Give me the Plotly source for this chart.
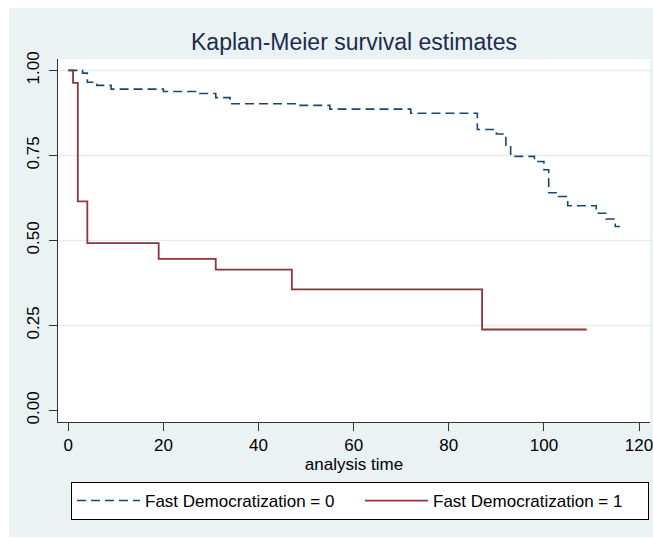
import plotly.graph_objects as go

# Kaplan-Meier step data
t_fast0 = [0, 3, 4, 6, 9, 20, 27, 31, 34, 48, 55, 72, 86, 90, 92, 93, 98, 100, 101, 103, 105, 111, 113, 115, 116]
s_fast0 = [1.0, 0.992, 0.965, 0.956, 0.945, 0.938, 0.932, 0.920, 0.902, 0.897, 0.886, 0.874, 0.826, 0.813,
           0.780, 0.747, 0.732, 0.708, 0.640, 0.629, 0.602, 0.580, 0.563, 0.541, 0.541]

t_fast1 = [0, 1, 2, 4, 19, 31, 47, 87, 109]
s_fast1 = [1.0, 0.963, 0.615, 0.492, 0.446, 0.414, 0.356, 0.238, 0.238]

x_ticks = [0, 20, 40, 60, 80, 100, 120]
y_ticks = [0.0, 0.25, 0.5, 0.75, 1.0]
y_tick_text = ["0.00", "0.25", "0.50", "0.75", "1.00"]

names = ["Fast Democratization = 0", "Fast Democratization = 1"]

FONT = "Liberation Sans, Arial, sans-serif"
BLUE = "#1A476F"
RED = "#90353B"
BG = "#EAF2F3"

fig = go.Figure()
fig.add_trace(go.Scatter(x=t_fast0, y=s_fast0, mode="lines", line_shape="hv", name=names[0],
                         line=dict(color=BLUE, width=1.6, dash="9px,5px")))
fig.add_trace(go.Scatter(x=t_fast1, y=s_fast1, mode="lines", line_shape="hv", name=names[1],
                         line=dict(color=RED, width=1.8)))

W, H = 653, 538
ml, mr, mt, mb = 58, 3, 59, 116
pw, ph = W - ml - mr, H - mt - mb

shapes = []
# white outer strips around the light graph region
shapes.append(dict(type="rect", xref="paper", yref="paper", layer="below",
                   x0=-ml / pw - 0.01, x1=(9 - ml) / pw, y0=-mb / ph - 0.01, y1=1 + mt / ph + 0.01,
                   fillcolor="white", line=dict(width=0)))
shapes.append(dict(type="rect", xref="paper", yref="paper", layer="below",
                   x0=-ml / pw - 0.01, x1=1 + mr / pw + 0.01, y0=1 + (mt - 8) / ph, y1=1 + mt / ph + 0.01,
                   fillcolor="white", line=dict(width=0)))
shapes.append(dict(type="rect", xref="paper", yref="paper", layer="below",
                   x0=-ml / pw - 0.01, x1=1 + mr / pw + 0.01, y0=-mb / ph - 0.01, y1=-(mb - 1) / ph,
                   fillcolor="white", line=dict(width=0)))
# horizontal gridlines (all labelled y ticks except 0)
for v in y_ticks[1:]:
    shapes.append(dict(type="line", xref="paper", yref="y", layer="below",
                       x0=0, x1=1, y0=v, y1=v, line=dict(color="#E6EEF0", width=1.5)))

fig.update_layout(
    width=W, height=H,
    margin=dict(l=ml, r=mr, t=mt, b=mb, pad=0, autoexpand=False),
    paper_bgcolor=BG, plot_bgcolor="white",
    font=dict(family=FONT, size=17, color="black"),
    title=dict(text="Kaplan-Meier survival estimates", x=0.5, xref="paper",
               y=1 - 42 / H, yref="container", yanchor="middle", xanchor="center",
               font=dict(family=FONT, size=23, color="#1C2B50")),
    shapes=shapes,
    showlegend=True,
    legend=dict(orientation="h", x=(71 - ml) / pw, xanchor="left", y=((mt + ph) - 482) / ph,
                yanchor="top", bgcolor="white", bordercolor="black", borderwidth=1,
                font=dict(family=FONT, size=17, color="black"), itemwidth=63,
                entrywidth=210, tracegroupgap=0),
    xaxis=dict(range=[-2.166, 122.3], tickvals=x_ticks, ticktext=[str(v) for v in x_ticks],
               showgrid=False, zeroline=False, showline=True, linecolor="#333", linewidth=1,
               ticks="outside", ticklen=8, tickcolor="#333", tickwidth=1, ticklabeloverflow="allow",
               tickfont=dict(size=17), title=dict(text="analysis time", standoff=1, font=dict(size=17))),
    yaxis=dict(range=[-0.034, 1.0335], tickvals=y_ticks, ticktext=y_tick_text, tickangle=-90,
               showgrid=False, zeroline=False, showline=True, linecolor="#333", linewidth=1,
               ticks="outside", ticklen=8, tickcolor="#333", tickwidth=1, ticklabelstandoff=3,
               ticklabeloverflow="allow", tickfont=dict(size=17)),
)

fig.write_html("out.html")
